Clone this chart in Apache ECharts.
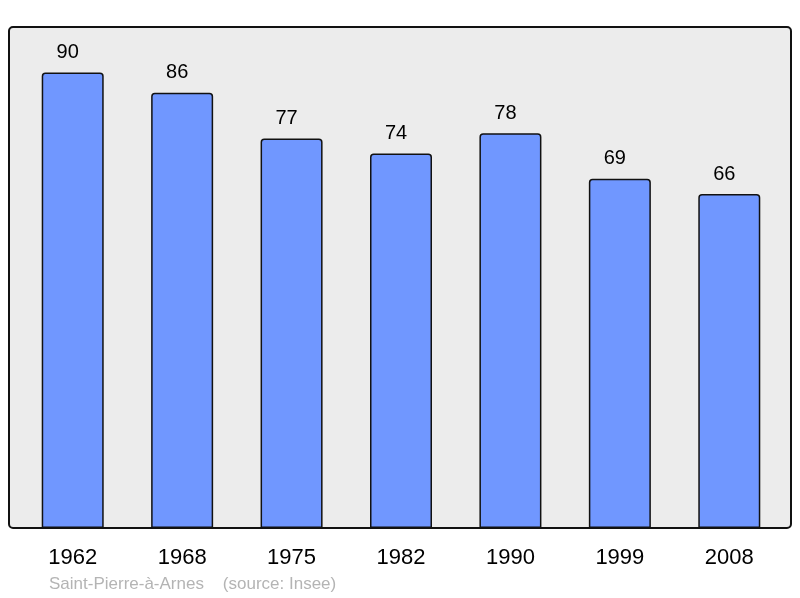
<!DOCTYPE html>
<html>
<head>
<meta charset="utf-8">
<script src="https://cdn.jsdelivr.net/npm/echarts@6/dist/echarts.min.js"></script>
<style>
  html, body { margin: 0; padding: 0; background: #fff; }
  #chart { width: 800px; height: 598px; }
</style>
</head>
<body>
<div id="chart"></div>
<script>
// population par année de recensement
var years = ['1962', '1968', '1975', '1982', '1990', '1999', '2008'];
var population = [90, 86, 77, 74, 78, 69, 66];
var footer = 'Saint-Pierre-à-Arnes    (source: Insee)';

var chart = echarts.init(document.getElementById('chart'));
chart.setOption({
  backgroundColor: '#fff',
  animation: false,
  textStyle: { fontFamily: 'Liberation Sans, Arial, sans-serif' },
  graphic: [
    {
      type: 'rect',
      z: -10,
      shape: { x: 9, y: 27, width: 782, height: 501, r: 4 },
      style: { fill: '#ececec', stroke: '#111', lineWidth: 2 }
    },
    {
      type: 'text',
      left: 49,
      top: 576,
      style: {
        text: footer,
        fill: '#b4b4b4',
        font: '17px "Liberation Sans", Arial, sans-serif'
      }
    }
  ],
  grid: { left: 18, right: 16, top: 22, bottom: 70 },
  xAxis: {
    type: 'category',
    data: years,
    axisLine: { show: false },
    axisTick: { show: false },
    axisLabel: { color: '#000', fontSize: 22, margin: 19 }
  },
  yAxis: {
    type: 'value',
    min: 0,
    max: 100,
    show: false,
    splitLine: { show: false }
  },
  series: [
    {
      type: 'bar',
      data: population,
      barWidth: 62,
      itemStyle: {
        color: '#7097ff',
        borderColor: '#111',
        borderWidth: 1.5,
        borderRadius: [3, 3, 0, 0]
      },
      label: {
        show: true,
        position: 'top',
        distance: 10,
        offset: [-5, 0],
        color: '#000',
        fontSize: 20
      }
    }
  ]
});
</script>
</body>
</html>
